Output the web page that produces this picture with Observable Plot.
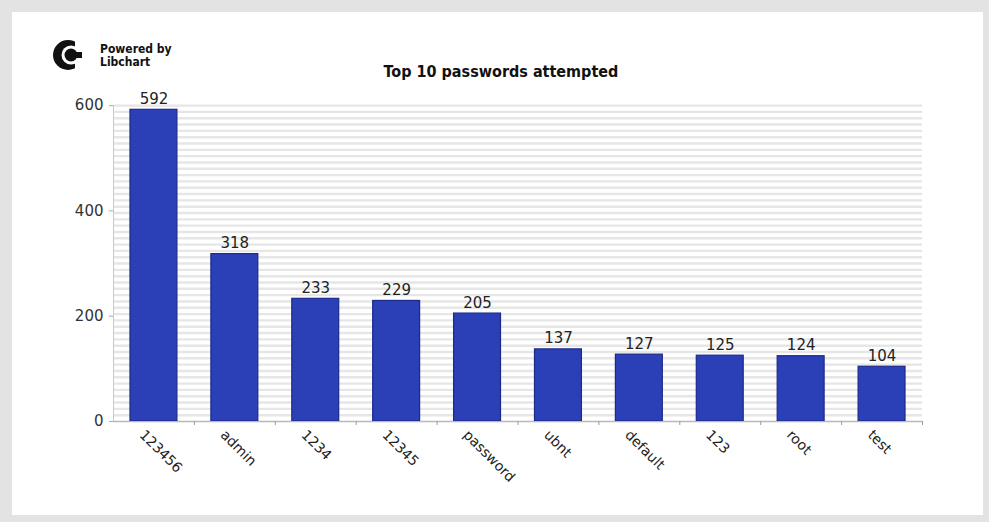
<!DOCTYPE html>
<html>
<head>
<meta charset="utf-8">
<script src="https://cdn.jsdelivr.net/npm/d3@7"></script>
<script src="https://cdn.jsdelivr.net/npm/@observablehq/plot@0.6"></script>
<style>
  html, body { margin: 0; padding: 0; width: 989px; height: 522px; overflow: hidden; background: #e3e3e3; }
  body { font-family: "DejaVu Sans", sans-serif; }
  #card { position: absolute; left: 12px; top: 12px; width: 971px; height: 503px; background: #fff; }
  #chart { position: absolute; left: 0; top: 0; }
  #title { position: absolute; left: 0; top: 62px; width: 1002px; text-align: center; font-family: "DejaVu Sans Condensed", "DejaVu Sans", sans-serif; font-weight: bold; font-size: 16px; color: #111; }
  #logo { position: absolute; left: 52px; top: 38px; }
  #powered { position: absolute; left: 100px; top: 43px; font-family: "DejaVu Sans Condensed", "DejaVu Sans", sans-serif; font-size: 12px; font-weight: bold; line-height: 13px; color: #111; }
</style>
</head>
<body>
<div id="card"></div>
<div id="chart"></div>
<svg id="logo" width="34" height="34" viewBox="0 0 34 34">
  <circle cx="16" cy="17" r="15" fill="#111"/>
  <circle cx="19" cy="17" r="9.5" fill="#fff"/>
  <rect x="23" y="3" width="11" height="28" fill="#fff"/>
  <circle cx="19" cy="17" r="6.5" fill="#111"/>
  <rect x="22" y="14" width="8" height="6" fill="#111"/>
</svg>
<div id="powered">Powered by<br>Libchart</div>
<div id="title">Top 10 passwords attempted</div>
<script>
const passwords = ["123456", "admin", "1234", "12345", "password", "ubnt", "default", "123", "root", "test"];
const attempts = [592, 318, 233, 229, 205, 137, 127, 125, 124, 104];
const yTicks = [0, 200, 400, 600];
const gridValues = d3.range(0, 605, 12);

const data = passwords.map((p, i) => ({password: p, count: attempts[i]}));

const W = 989, H = 522;
const mL = 113, mR = 67, mT = 103, mB = 101;
const step = (W - mL - mR) / passwords.length;
const font = '"DejaVu Sans", sans-serif';

const chart = Plot.plot({
  width: W,
  height: H,
  marginLeft: mL,
  marginRight: mR,
  marginTop: mT,
  marginBottom: mB,
  style: {fontFamily: font, background: "transparent"},
  x: {domain: passwords, paddingInner: 0.42, paddingOuter: 0.21, round: false, axis: null},
  y: {domain: [0, 604], axis: null},
  marks: [
    Plot.ruleY(gridValues, {stroke: "#e6e6e6", strokeWidth: 2.4}),
    Plot.barY(data, {x: "password", y: "count", fill: "#2b3fb6", stroke: "#1c2a8a", strokeWidth: 1.2}),
    Plot.ruleY([0], {stroke: "#b8b8c0", strokeWidth: 1}),
    Plot.ruleX([passwords[0]], {y1: 0, y2: 600, dx: -step / 2, stroke: "#c8c8c8", strokeWidth: 1}),
    Plot.ruleX(passwords, {y1: 0, y2: 0, dx: step / 2, insetBottom: -4, stroke: "#9a9aa8", strokeWidth: 1}),
    Plot.axisY({ticks: yTicks, tickSize: 4, tickPadding: 6, fontSize: 15, color: "#333", stroke: "#aaa", label: null}),
    Plot.text(data, {x: "password", y: "count", text: d => String(d.count), lineAnchor: "bottom", dy: -6, fontSize: 15, fill: "#222"}),
    Plot.text(data, {x: "password", y: 0, text: "password", rotate: 45, textAnchor: "start", dx: -12, dy: 11, fontSize: 14, fill: "#222"})
  ]
});
document.getElementById("chart").appendChild(chart);
</script>
</body>
</html>
